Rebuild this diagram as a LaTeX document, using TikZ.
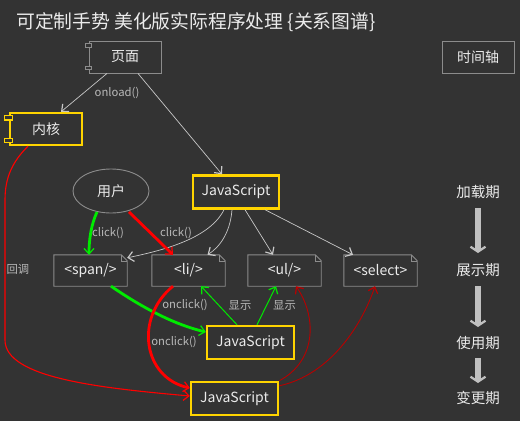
\documentclass[tikz,border=0pt]{standalone}
\usepackage{fontspec}
\setmainfont{Noto Sans CJK SC}
\usetikzlibrary{arrows.meta,shapes.geometric}
\definecolor{bgc}{RGB}{51,51,51}
\definecolor{txtc}{RGB}{235,235,235}
\definecolor{lblc}{RGB}{185,185,185}
\definecolor{boxc}{RGB}{140,140,140}
\definecolor{yelc}{RGB}{255,212,0}
\definecolor{edgec}{RGB}{200,200,200}
\definecolor{grnc}{RGB}{0,235,0}
\definecolor{redc}{RGB}{255,0,0}
\definecolor{dredc}{RGB}{185,0,0}
\definecolor{tlc}{RGB}{192,192,192}
\tikzset{
  arr/.tip={Straight Barb[length=5.5pt,width=10pt,line width=1.2pt]},
  base/.style={inner sep=0pt, text=txtc, font=\fontsize{14}{16}\selectfont},
  graybox/.style={base, draw=boxc, line width=0.9pt, minimum width=72pt, minimum height=32pt},
  ybox/.style={base, draw=yelc, line width=2.4pt, minimum width=86pt, minimum height=33pt},
  docbox/.style={base, minimum width=73pt, minimum height=31pt},
  docline/.style={draw=boxc, line width=0.9pt},
  cmark/.style={line width=0.9pt, fill=bgc},
  usershape/.style={base, ellipse, draw=boxc, line width=0.9pt, minimum width=76pt, minimum height=44pt},
  lbl/.style={inner sep=0pt, text=lblc, font=\fontsize{11.3}{13}\selectfont},
  gedge/.style={draw=edgec, line width=0.7pt, -arr},
  gthick/.style={draw=grnc, line width=2.8pt, -arr},
  gthin/.style={draw=grnc, line width=1pt, -arr},
  rthick/.style={draw=redc, line width=2.8pt, -arr},
  rthin/.style={draw=redc, line width=1.1pt, -arr},
  drthin/.style={draw=dredc, line width=0.9pt, -arr},
  tltext/.style={inner sep=0pt, text=txtc, font=\fontsize{14.5}{16}\selectfont},
  tlarr/.style={draw=tlc, line width=5.5pt, -{Straight Barb[length=5pt,width=15pt,line width=2.2pt]}},
}
\begin{document}
\begin{tikzpicture}[x=1pt,y=-1pt]
\fill[bgc] (0,0) rectangle (520,421);
\useasboundingbox (0,0) rectangle (520,421);

\node[inner sep=0pt, anchor=west, text=txtc, font=\fontsize{18.8}{22}\selectfont] (title) at (16,22) {可定制手势 美化版实际程序处理 \{关系图谱\}};

% nodes
\node[graybox] (page) at (125,57) {页面};
\node[ybox, minimum width=72pt, minimum height=32pt] (core) at (46,129) {内核};
\node[usershape] (user) at (111,191) {用户};
\node[ybox] (js1) at (236,192) {JavaScript};
\node[docbox] (span) at (90.5,270.5) {<span/>};
\node[docbox] (li) at (188.5,270.5) {<li/>};
\node[docbox] (ul) at (284.5,270.5) {<ul/>};
\node[docbox] (sel) at (380.5,270.5) {<select>};
\node[ybox, minimum width=87pt] (js2) at (250.5,342.5) {JavaScript};
\node[ybox, minimum width=87pt] (js3) at (234.5,398.5) {JavaScript};
\node[graybox] (tl) at (478,57) {时间轴};
\node[tltext] (p1) at (478,192) {加载期};
\node[tltext] (p2) at (478,270) {展示期};
\node[tltext] (p3) at (478,342.7) {使用期};
\node[tltext] (p4) at (478,398) {变更期};

% component markers
\draw[cmark, draw=boxc] ([xshift=-3pt,yshift=-3pt]page.north west) rectangle +(6pt,-3.5pt);
\draw[cmark, draw=boxc] ([xshift=-3pt,yshift=4pt]page.south west) rectangle +(6pt,3.5pt);
\draw[cmark, draw=yelc, line width=1.4pt] ([xshift=-4.5pt,yshift=-3.5pt]core.north west) rectangle +(8pt,-4.5pt);
\draw[cmark, draw=yelc, line width=1.4pt] ([xshift=-4.5pt,yshift=3.5pt]core.south west) rectangle +(8pt,4.5pt);

% document shapes
\foreach \n in {span,li,ul,sel}{
  \draw[docline] (\n.south west) -- (\n.north west) -- ([xshift=-6pt]\n.north east)
    -- ([yshift=-6pt]\n.north east) -- (\n.south east) -- cycle;
  \draw[docline, line width=0.6pt] ([xshift=-6pt]\n.north east) |- ([yshift=-6pt]\n.north east);
}

% gray edges
\draw[gedge] ([xshift=-18pt]page.south) -- ([xshift=15pt]core.north);
\node[lbl] (lonload) at (117,93) {onload()};
\draw[gedge] ([xshift=13pt]page.south) -- ([xshift=-14pt]js1.north);
\draw[gedge] ([xshift=-12pt]js1.south) .. controls (210,238) and (165,250) .. ([yshift=-3pt]span.north east);
\draw[gedge] ([xshift=-4pt]js1.south) .. controls (230,235) and (218,248) .. ([xshift=19pt]li.north);
\draw[gedge] ([xshift=9pt]js1.south) -- ([xshift=-11.5pt]ul.north);
\draw[gedge] ([xshift=29pt]js1.south) -- ([xshift=-27.5pt]sel.north);

% user clicks
\draw[gthick] ([xshift=-14pt,yshift=1.5pt]user.south) .. controls (91,225) and (89,240) .. ([xshift=-1.5pt]span.north);
\node[lbl] (lclick1) at (108,233) {click()};
\draw[rthick] ([xshift=18pt,yshift=1.5pt]user.south) -- ([xshift=-15.5pt]li.north);
\node[lbl] (lclick2) at (176,233) {click()};

% span -> js2
\draw[gthick] ([xshift=20.5pt]span.south) .. controls (140,306) and (172,324) .. ([yshift=10.5pt]js2.west);
\node[lbl] (lonclick1) at (185,305) {onclick()};
% js2 -> li, ul
\draw[gthin] ([xshift=-13.5pt]js2.north) -- ([xshift=12.5pt]li.south);
\node[lbl] (lshow1) at (240,305) {显示};
\draw[gthin] ([xshift=6.5pt]js2.north) -- ([xshift=-8.5pt]ul.south);
\node[lbl] (lshow2) at (284.5,305) {显示};

% li -> js3
\draw[rthick] ([xshift=-15.5pt]li.south) .. controls (134,318) and (143,378) .. ([yshift=10.5pt]js3.west);
\node[lbl] (lonclick2) at (174,342) {onclick()};

% core -> js3 callback
\draw[rthin] ([xshift=-18pt]core.south) .. controls (12,162) and (5,178) .. (5,200) -- (5,340)
   .. controls (5,378) and (100,388) .. ([yshift=2.5pt]js3.west);
\node[lbl] (lcb) at (18,269) {回调};

% js3 -> ul, select
\draw[drthin] (js3.north east) .. controls (318,360) and (316,315) .. ([xshift=11.5pt]ul.south);
\draw[drthin] ([yshift=-5pt]js3.north east) .. controls (330,375) and (362,325) .. ([xshift=-5.5pt]sel.south);

% timeline
\draw[tlarr] ([yshift=-16pt]p1.center) -- ([yshift=17pt]p2.center);
\draw[tlarr] ([yshift=-16pt]p2.center) -- ([yshift=15.7pt]p3.center);
\draw[tlarr] ([yshift=-15.3pt]p3.center) -- ([yshift=15pt]p4.center);
\end{tikzpicture}
\end{document}
